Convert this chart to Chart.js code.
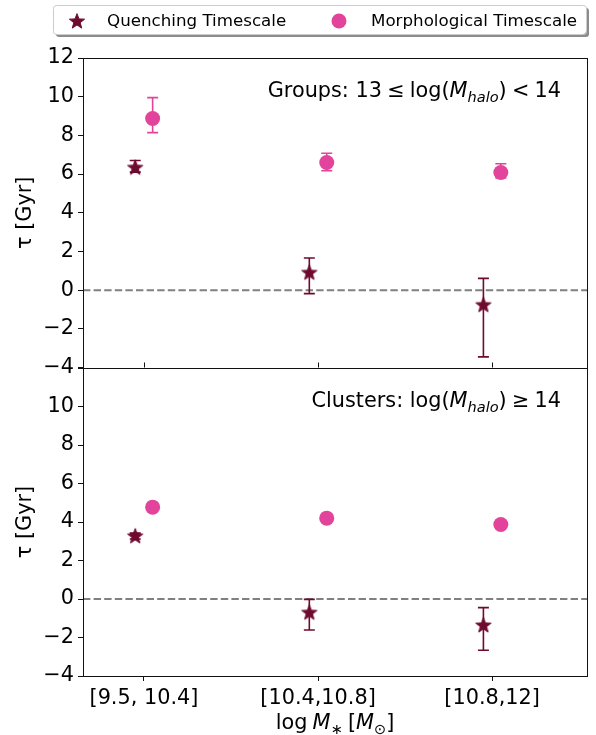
<!DOCTYPE html>
<html><head><meta charset="utf-8">
<script src="https://cdn.jsdelivr.net/npm/chart.js@4.4.1/dist/chart.umd.min.js"></script>
<style>
html,body{margin:0;padding:0;background:#fff;}
#wrap{position:relative;width:596px;height:735px;overflow:hidden;}
canvas{position:absolute;left:0;}
#c1{top:0;width:596px;height:384px;}
#c2{top:340px;width:596px;height:395px;}
</style></head><body>
<div id="wrap">
<canvas id="c1" width="596" height="384"></canvas>
<canvas id="c2" width="596" height="395"></canvas>
</div>
<script>
// ---------- data ----------
const categories = ['[9.5, 10.4]', '[10.4,10.8]', '[10.8,12]'];
const categoryPositions = [0, 1, 2];
const yTicks = [-4, -2, 0, 2, 4, 6, 8, 10, 12];
const seriesNames = ['Quenching Timescale', 'Morphological Timescale'];

const groupsQuench     = [6.35, 0.92, -0.75];
const groupsQuenchLow  = [6.10, -0.18, -3.45];
const groupsQuenchHigh = [6.70, 1.66, 0.61];
const groupsMorph      = [8.87, 6.60, 6.08];
const groupsMorphLow   = [8.14, 6.17, 5.80];
const groupsMorphHigh  = [9.95, 7.08, 6.53];

const clustersQuench     = [3.28, -0.69, -1.35];
const clustersQuenchLow  = [3.12, -1.61, -2.66];
const clustersQuenchHigh = [3.42, -0.02, -0.45];
const clustersMorph      = [4.77, 4.20, 3.87];
const clustersMorphLow   = [4.62, 4.05, 3.72];
const clustersMorphHigh  = [4.92, 4.35, 4.02];

// ---------- styles ----------
const MAROON = '#6f0a2f';
const PINK = '#e3449b';
const FONT = '"DejaVu Sans", "Liberation Sans", sans-serif';
const TICK_SIZE = 20.8;
const LEGEND_SIZE = 16.7;
const dodge = 0.05;

// filled five-point star marker
function makeStar(R, color) {
  const size = Math.ceil(R * 2 + 4);
  const c = document.createElement('canvas');
  c.width = size; c.height = size;
  const g = c.getContext('2d');
  const cx = size / 2, cy = size / 2 + R * 0.08;
  const r = R * 0.42;
  g.beginPath();
  for (let i = 0; i < 10; i++) {
    const ang = -Math.PI / 2 + i * Math.PI / 5;
    const rad = i % 2 === 0 ? R : r;
    const px = cx + rad * Math.cos(ang), py = cy + rad * Math.sin(ang);
    if (i === 0) g.moveTo(px, py); else g.lineTo(px, py);
  }
  g.closePath();
  g.fillStyle = color; g.fill();
  g.lineWidth = 1; g.strokeStyle = color; g.lineJoin = 'miter'; g.stroke();
  return c;
}
const starImg = makeStar(8, MAROON);

function fmtTick(v) { return v < 0 ? '\u2212' + Math.abs(v) : String(v); }

// draw a sequence of text pieces (simple mathtext)
function drawPieces(ctx, pieces, x, baseline, align, size) {
  const setFont = p => {
    const s = p.sub ? size * 0.7 : size;
    ctx.font = (p.italic ? 'italic ' : '') + s + 'px ' + FONT;
  };
  let total = 0;
  pieces.forEach(p => { setFont(p); p.w = ctx.measureText(p.t).width; total += p.w; });
  let cx = align === 'right' ? x - total : align === 'center' ? x - total / 2 : x;
  ctx.fillStyle = '#000';
  ctx.textAlign = 'left';
  ctx.textBaseline = 'alphabetic';
  pieces.forEach(p => {
    setFont(p);
    ctx.fillText(p.t, cx, baseline + (p.sub ? size * 0.22 : 0));
    cx += p.w;
  });
}

function errorBarPlugin() {
  return {
    id: 'errbars',
    beforeDatasetsDraw(chart) {
      const { ctx, chartArea: a, scales: { x, y } } = chart;
      ctx.save();
      // zero reference line
      const y0 = y.getPixelForValue(0);
      ctx.strokeStyle = '#808080';
      ctx.lineWidth = 2;
      ctx.setLineDash([7.4, 3.2]);
      ctx.beginPath(); ctx.moveTo(a.left, y0); ctx.lineTo(a.right, y0); ctx.stroke();
      ctx.setLineDash([]);
      // error bars
      chart.data.datasets.forEach(ds => {
        ctx.strokeStyle = ds.borderColor;
        ctx.lineWidth = 1.6;
        ds.data.forEach((pt, i) => {
          const px = x.getPixelForValue(pt.x);
          const lo = y.getPixelForValue(ds.errLow[i]);
          const hi = y.getPixelForValue(ds.errHigh[i]);
          ctx.beginPath();
          ctx.moveTo(px, lo); ctx.lineTo(px, hi);
          ctx.moveTo(px - 5.5, lo); ctx.lineTo(px + 5.5, lo);
          ctx.moveTo(px - 5.5, hi); ctx.lineTo(px + 5.5, hi);
          ctx.stroke();
        });
      });
      ctx.restore();
    },
    afterDraw(chart) {
      const { ctx, chartArea: a, scales: { x } } = chart;
      const o = chart.options.plugins.panel;
      ctx.save();
      // frame
      ctx.strokeStyle = '#111';
      ctx.lineWidth = 1;
      ctx.strokeRect(Math.round(a.left) + 0.5, Math.round(a.top) + 0.5,
                     Math.round(a.right - a.left), Math.round(a.bottom - a.top));
      // panel annotation
      drawPieces(ctx, o.pieces, a.right - 26, a.top + 39, 'right', TICK_SIZE);
      if (o.top) {
        // small tick marks at bottom of the upper panel
        ctx.strokeStyle = '#111';
        ctx.lineWidth = 1;
        categoryPositions.forEach(v => {
          const px = Math.round(x.getPixelForValue(v)) + 0.5;
          ctx.beginPath(); ctx.moveTo(px, a.bottom - 5); ctx.lineTo(px, a.bottom); ctx.stroke();
        });
        // legend
        const lx = 53, ly = 5, lw = 533, lh = 29, rr = 3;
        const rrect = (X, Y, W, H) => { ctx.beginPath(); ctx.roundRect(X, Y, W, H, rr); };
        ctx.fillStyle = 'rgba(0,0,0,0.45)';
        rrect(lx + 3, ly + 3, lw, lh); ctx.fill();
        ctx.fillStyle = '#fff';
        rrect(lx, ly, lw, lh); ctx.fill();
        ctx.strokeStyle = '#cccccc'; ctx.lineWidth = 1;
        rrect(lx + 0.5, ly + 0.5, lw, lh); ctx.stroke();
        const ds = chart.data.datasets;
        ctx.drawImage(starImg, 77 - starImg.width / 2, 21 - starImg.height / 2);
        ctx.fillStyle = PINK;
        ctx.beginPath(); ctx.arc(339, 21, 7.5, 0, Math.PI * 2); ctx.fill();
        ctx.fillStyle = '#000';
        ctx.font = LEGEND_SIZE + 'px ' + FONT;
        ctx.textBaseline = 'alphabetic';
        ctx.textAlign = 'left';
        ctx.fillText(ds[0].label, 107, 26);
        ctx.fillText(ds[1].label, 371, 26);
      } else {
        // x-axis title  log M* [M_sun]
        drawPieces(ctx, [
          { t: 'log\u2005' }, { t: 'M', italic: true }, { t: '\u2217', sub: true },
          { t: '\u2005[' }, { t: 'M', italic: true }, { t: '\u2299', sub: true }, { t: ']' }
        ], (a.left + a.right) / 2, chart.height - 6, 'center', TICK_SIZE);
      }
      ctx.restore();
    }
  };
}

function makeChart(id, quench, qLo, qHi, morph, mLo, mHi, isTop, pieces) {
  const tickFont = { family: FONT, size: TICK_SIZE };
  return new Chart(document.getElementById(id), {
    type: 'scatter',
    data: {
      datasets: [
        {
          label: seriesNames[0],
          data: quench.map((v, i) => ({ x: categoryPositions[i] - dodge, y: v })),
          errLow: qLo, errHigh: qHi,
          pointStyle: starImg, pointRadius: 8,
          backgroundColor: MAROON, borderColor: MAROON, showLine: false
        },
        {
          label: seriesNames[1],
          data: morph.map((v, i) => ({ x: categoryPositions[i] + dodge, y: v })),
          errLow: mLo, errHigh: mHi,
          pointStyle: 'circle', pointRadius: 7.5, borderWidth: 0,
          backgroundColor: PINK, borderColor: PINK, showLine: false
        }
      ]
    },
    options: {
      responsive: false, animation: false, devicePixelRatio: 1, events: [],
      layout: { padding: isTop ? { top: 58, bottom: 16, left: 0, right: 8 }
                               : { top: 28, bottom: 0, left: 0, right: 8 } },
      plugins: { legend: { display: false }, tooltip: { enabled: false },
                 panel: { top: isTop, pieces: pieces } },
      scales: {
        x: {
          type: 'linear', min: -0.35, max: 2.545, display: !isTop,
          afterBuildTicks: s => { s.ticks = categoryPositions.map(v => ({ value: v })); },
          afterFit: s => { s.height = isTop ? 0 : 59; },
          ticks: { callback: v => categories[categoryPositions.indexOf(v)], font: tickFont,
                   color: '#000', padding: 5, maxRotation: 0, autoSkip: false },
          grid: { drawOnChartArea: false, drawTicks: true, tickLength: 5, color: '#111' },
          border: { display: false }
        },
        y: {
          min: -4, max: 12,
          afterBuildTicks: s => { s.ticks = yTicks.map(v => ({ value: v })); },
          afterFit: s => { s.width = 83; },
          ticks: { callback: v => (isTop || v !== 12) ? fmtTick(v) : '', font: tickFont,
                   color: '#000', padding: 4, autoSkip: false },
          grid: { drawOnChartArea: false, drawTicks: true, tickLength: 5, color: '#111' },
          border: { display: false },
          title: { display: true, text: '\u03c4 [Gyr]', font: tickFont, color: '#000',
                   padding: { top: 13, bottom: 0 } }
        }
      }
    },
    plugins: [errorBarPlugin()]
  });
}

const TS = '\u2005';
makeChart('c1', groupsQuench, groupsQuenchLow, groupsQuenchHigh,
          groupsMorph, groupsMorphLow, groupsMorphHigh, true,
          [{ t: 'Groups: 13' + TS + '\u2264' + TS + 'log(' }, { t: 'M', italic: true },
           { t: 'halo', italic: true, sub: true }, { t: ')' + TS + '<' + TS + '14' }]);
makeChart('c2', clustersQuench, clustersQuenchLow, clustersQuenchHigh,
          clustersMorph, clustersMorphLow, clustersMorphHigh, false,
          [{ t: 'Clusters: log(' }, { t: 'M', italic: true },
           { t: 'halo', italic: true, sub: true }, { t: ')' + TS + '\u2265' + TS + '14' }]);
</script>
</body></html>
